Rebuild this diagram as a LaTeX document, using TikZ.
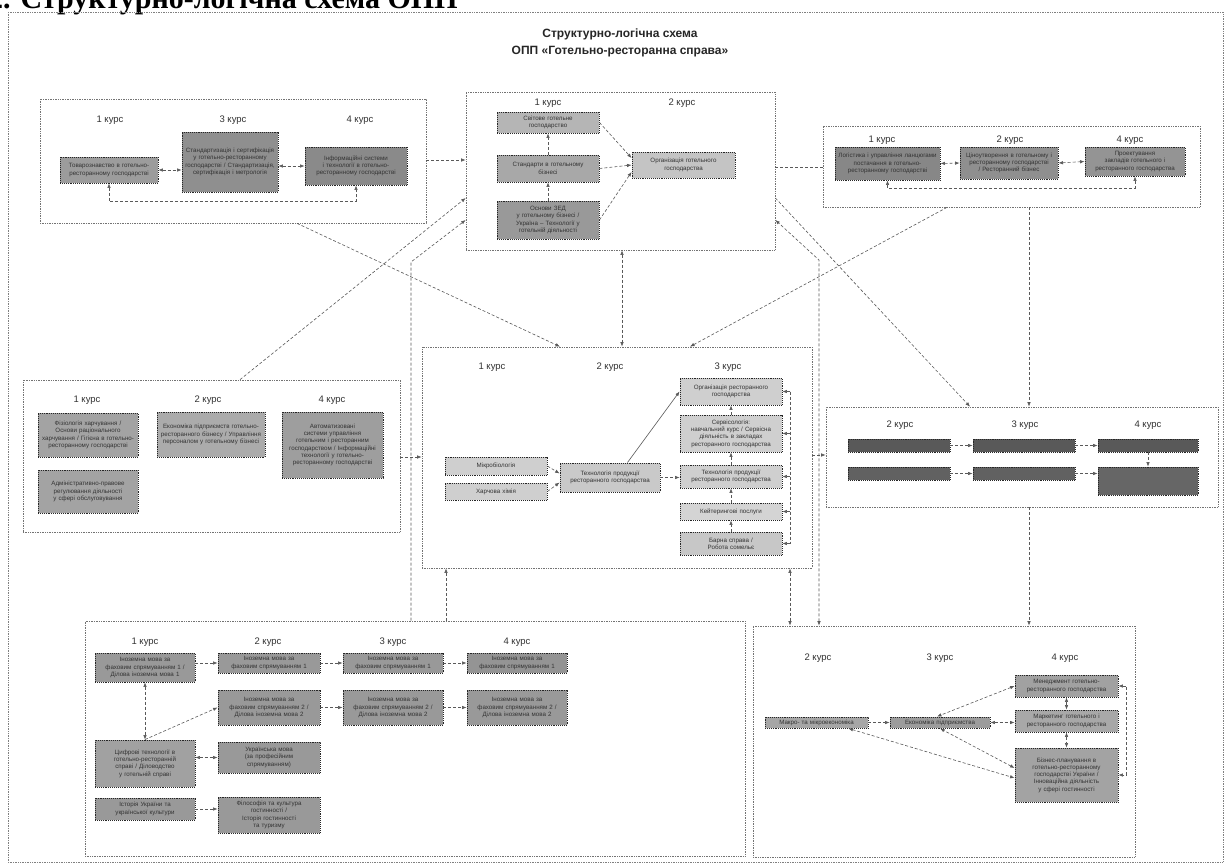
\documentclass[tikz,border=0pt]{standalone}
\usepackage{fontspec}
\setmainfont{Liberation Serif}
\newfontfamily\arialf{Liberation Sans}
\usetikzlibrary{arrows.meta,fit}
\tikzset{
 bx/.style={draw=black!85,densely dotted,line width=0.9pt,inner sep=1pt,align=center,text=black!80,font=\arialf\fontsize{6.2}{7.3}\selectfont},
 grp/.style={draw=black!55,densely dotted,line width=0.7pt,inner sep=0pt},
 con/.style={draw=black!65,densely dashed,line width=0.6pt,>={Latex[length=4.5pt,width=3.5pt]}},
 lbl/.style={text=black!80,font=\arialf\fontsize{9.5}{11}\selectfont},
}
\newcommand\mkbox[7]{%
  \pgfmathsetmacro\bxw{#4-#2}%
  \pgfmathsetmacro\bxh{#5-#3}%
  \pgfmathsetmacro\bxt{#4-#2-5}%
  \node[bx,fill=#6,minimum width=\bxw pt,minimum height=\bxh pt,text width=\bxt pt] (#1) at ({(#2+#4)/2},{(#3+#5)/2}) {#7};}
\newcommand\mkgrp[5]{\node[grp,fit={(#2,#3) (#4,#5)}] (#1) {};}
\begin{document}
\begin{tikzpicture}[x=1pt,y=-1pt]
\useasboundingbox (0,0) rectangle (1231,864);
\fill[white] (0,0) rectangle (1231,864);
\node[anchor=base west,font=\bfseries\fontsize{30}{32}\selectfont,inner sep=0] (hdr) at (-12,9) {2. Структурно-логічна схема ОПП};
\draw[black!50,densely dotted,line width=0.7pt] (8,12) rectangle (1223,862);
\node[font=\arialf\bfseries\fontsize{12}{17}\selectfont,align=center,text=black!85] (title) at (620,43) {Структурно-логічна схема\\ОПП «Готельно-ресторанна справа»};

% groups
\mkgrp{g1}{40}{99}{426}{223}
\mkgrp{g2}{466}{92}{775}{250}
\mkgrp{g3}{823}{126}{1200}{207}
\mkgrp{g4}{23}{380}{400}{532}
\mkgrp{g5}{422}{347}{812}{568}
\mkgrp{g6}{826}{407}{1218}{507}
\mkgrp{g7}{85}{621}{745}{856}
\mkgrp{g8}{753}{626}{1135}{857}

% labels
\node[lbl] (l11) at (110,120) {1 курс};
\node[lbl] (l13) at (233,120) {3 курс};
\node[lbl] (l14) at (360,120) {4 курс};
\node[lbl] (l21) at (548,103) {1 курс};
\node[lbl] (l22) at (682,103) {2 курс};
\node[lbl] (l31) at (882,140) {1 курс};
\node[lbl] (l32) at (1010,140) {2 курс};
\node[lbl] (l34) at (1130,140) {4 курс};
\node[lbl] (l41) at (87,400) {1 курс};
\node[lbl] (l42) at (208,400) {2 курс};
\node[lbl] (l44) at (332,400) {4 курс};
\node[lbl] (l51) at (492,367) {1 курс};
\node[lbl] (l52) at (610,367) {2 курс};
\node[lbl] (l53) at (728,367) {3 курс};
\node[lbl] (l62) at (900,425) {2 курс};
\node[lbl] (l63) at (1025,425) {3 курс};
\node[lbl] (l64) at (1148,425) {4 курс};
\node[lbl] (l71) at (145,642) {1 курс};
\node[lbl] (l72) at (268,642) {2 курс};
\node[lbl] (l73) at (393,642) {3 курс};
\node[lbl] (l74) at (517,642) {4 курс};
\node[lbl] (l82) at (818,658) {2 курс};
\node[lbl] (l83) at (940,658) {3 курс};
\node[lbl] (l84) at (1065,658) {4 курс};

% group 1
\mkbox{A1}{60}{157}{158}{183}{black!39}{Товарознавство в готельно-ресторанному господарстві}
\mkbox{A3}{182}{132}{278}{192}{black!44}{Стандартизація і сертифікація у готельно-ресторанному господарстві / Стандартизація, сертифікація і метрологія}
\mkbox{A4}{305}{147}{407}{185}{black!46}{Інформаційні системи і технології в готельно-ресторанному господарстві}
% group 2
\mkbox{B1}{497}{112}{599}{133}{black!29}{Світове готельне\\господарство}
\mkbox{B2}{497}{155}{599}{182}{black!34}{Стандарти в готельному\\бізнесі}
\mkbox{B3}{497}{201}{599}{239}{black!40}{Основи ЗЕД\\у готельному бізнесі /\\Україна – Технології у\\готельній діяльності}
\mkbox{B4}{632}{152}{735}{178}{black!23}{Організація готельного\\господарства}
% group 3
\mkbox{C1}{835}{147}{940}{180}{black!47}{Логістика і управління ланцюгами постачання в готельно-ресторанному господарстві}
\mkbox{C2}{960}{147}{1058}{179}{black!44}{Ціноутворення в готельному і ресторанному господарстві / Ресторанний бізнес}
\mkbox{C4}{1085}{147}{1185}{176}{black!42}{Проектування закладів готельного і ресторанного господарства}
% group 4
\mkbox{D1a}{38}{413}{138}{457}{black!36}{Фізіологія харчування / Основи раціонального харчування / Гігієна в готельно-ресторанному господарстві}
\mkbox{D1b}{38}{470}{138}{513}{black!36}{Адміністративно-правове регулювання діяльності у сфері обслуговування}
\mkbox{D2}{157}{412}{265}{457}{black!33}{Економіка підприємств готельно-ресторанного бізнесу / Управління персоналом у готельному бізнесі}
\mkbox{D4}{282}{412}{383}{478}{black!38}{Автоматизовані системи управління готельним і ресторанним господарством / Інформаційні технології у готельно-ресторанному господарстві}
% group 5
\mkbox{E1a}{445}{457}{547}{475}{black!19}{Мікробіологія}
\mkbox{E1b}{445}{483}{547}{500}{black!19}{Харчова хімія}
\mkbox{E2}{560}{463}{660}{492}{black!21}{Технологія продукції\\ресторанного господарства}
\mkbox{E3a}{680}{378}{782}{405}{black!19}{Організація ресторанного\\господарства}
\mkbox{E3b}{680}{415}{782}{452}{black!19}{Сервісологія:\\навчальний курс / Сервісна\\діяльність в закладах\\ресторанного господарства}
\mkbox{E3c}{680}{465}{782}{488}{black!19}{Технологія продукції\\ресторанного господарства}
\mkbox{E3d}{680}{503}{782}{520}{black!17}{Кейтерингові послуги}
\mkbox{E3e}{680}{532}{782}{555}{black!22}{Барна справа /\\Робота сомельє}
% group 6
\mkbox{F2a}{848}{439}{950}{452}{black!65}{}
\mkbox{F3a}{973}{439}{1075}{452}{black!65}{}
\mkbox{F4a}{1098}{439}{1198}{452}{black!65}{}
\mkbox{F2b}{848}{467}{950}{480}{black!62}{}
\mkbox{F3b}{973}{467}{1075}{480}{black!62}{}
\mkbox{F4b}{1098}{467}{1198}{495}{black!60}{}
% group 7
\mkbox{H1a}{95}{653}{195}{682}{black!40}{Іноземна мова за\\фаховим спрямуванням 1 /\\Ділова іноземна мова 1}
\mkbox{H2a}{218}{653}{320}{673}{black!40}{Іноземна мова за\\фаховим спрямуванням 1}
\mkbox{H3a}{343}{653}{443}{673}{black!40}{Іноземна мова за\\фаховим спрямуванням 1}
\mkbox{H4a}{467}{653}{567}{673}{black!42}{Іноземна мова за\\фаховим спрямуванням 1}
\mkbox{H2b}{218}{690}{320}{725}{black!40}{Іноземна мова за\\фаховим спрямуванням 2 /\\Ділова іноземна мова 2}
\mkbox{H3b}{343}{690}{443}{725}{black!40}{Іноземна мова за\\фаховим спрямуванням 2 /\\Ділова іноземна мова 2}
\mkbox{H4b}{467}{690}{567}{725}{black!40}{Іноземна мова за\\фаховим спрямуванням 2 /\\Ділова іноземна мова 2}
\mkbox{H1b}{95}{740}{195}{787}{black!37}{Цифрові технології в\\готельно-ресторанній\\справі / Діловодство\\у готельній справі}
\mkbox{H2c}{218}{742}{320}{773}{black!40}{Українська мова\\(за професійним\\спрямуванням)}
\mkbox{H1c}{95}{798}{195}{820}{black!40}{Історія України та\\української культури}
\mkbox{H2d}{218}{797}{320}{833}{black!40}{Філософія та культура\\гостинності /\\Історія гостинності\\та туризму}
% group 8
\mkbox{K2}{765}{717}{868}{728}{black!35}{Макро- та мікроекономіка}
\mkbox{K3}{890}{717}{990}{728}{black!39}{Економіка підприємства}
\mkbox{K4a}{1015}{675}{1118}{697}{black!37}{Менеджмент готельно-\\ресторанного господарства}
\mkbox{K4b}{1015}{710}{1118}{732}{black!34}{Маркетинг готельного і\\ресторанного господарства}
\mkbox{K4c}{1015}{748}{1118}{802}{black!36}{Бізнес-планування в\\готельно-ресторанному\\господарстві України /\\Інноваційна діяльність\\у сфері гостинності}

% connectors inside group 1
\draw[con,<->] (A1.east) -- (A3.west |- A1.east);
\draw[con,<->] (A3.east |- A4.west) -- (A4.west);
\draw[con,<->] (A1.south) -- ++(0,18) -| (A4.south);
% group 2
\draw[con,->] (B3.north) -- (B2.south);
\draw[con,->] (B2.north) -- (B1.south);
\draw[con,->] (B1.east) -- ([yshift=7pt]B4.west);
\draw[con,->] (B2.east) -- (B4.west);
\draw[con,->] (B3.east) -- ([yshift=-7pt]B4.west);
% group 3
\draw[con,<->] (C1.east) -- (C2.west);
\draw[con,<->] (C2.east) -- (C4.west);
\draw[con,<->] (C1.south) -- (C1.south |- 0,188) -| (C4.south);
% group 5
\draw[con,->] (E1a.east) -- ([yshift=4pt]E2.west);
\draw[con,->] (E1b.east) -- ([yshift=-5pt]E2.west);
\draw[con,solid,->] ([xshift=-33pt]E2.north east) -- (E3a.west);
\draw[con,->] (E2.east) -- (E3c.west |- E2.east);
\draw[con,->] (E3e.north) -- (E3d.south);
\draw[con,->] (E3d.north) -- (E3c.south);
\draw[con,->] (E3c.north) -- (E3b.south);
\draw[con,->] (E3b.north) -- (E3a.south);
\coordinate (bus) at (790,0);
\draw[con] (E3a.east -| bus) -- (E3e.east -| bus);
\foreach \n in {E3a,E3b,E3c,E3d,E3e} \draw[con,->] (\n.east -| bus) -- (\n.east);
% group 6
\draw[con,->] (F2a.east) -- (F3a.west);
\draw[con,->] (F3a.east) -- (F4a.west);
\draw[con,->] (F4a.south) -- (F4b.north);
\draw[con,->] (F2b.east) -- (F3b.west);
\draw[con,->] (F3b.east) -- (F4b.west |- F3b.east);
% group 7
\draw[con,->] (H1a.east |- H2a.west) -- (H2a.west);
\draw[con,->] (H2a.east) -- (H3a.west);
\draw[con,->] (H3a.east) -- (H4a.west);
\draw[con,->] (H2b.east) -- (H3b.west);
\draw[con,->] (H3b.east) -- (H4b.west);
\draw[con,<->] (H1a.south) -- (H1b.north);
\draw[con,->] (H1b.north) -- (H2b.west);
\draw[con,<->] (H1b.east |- H2c.west) -- (H2c.west);
\draw[con,->] (H1c.east) -- (H2d.west |- H1c.east);
% group 8
\draw[con,->] (K2.east) -- (K3.west);
\draw[con,<->] (K3.east) -- (K4b.west |- K3.east);
\draw[con,<->] (K4a.west) -- ([xshift=-3pt]K3.north);
\draw[con,<->] ([yshift=7pt]K4c.west) -- (K3.south);
\draw[con,<->] ([xshift=-20pt]K2.south east) -- ([yshift=-3pt]K4c.west);
\draw[con,<->] (K4a.south) -- (K4b.north);
\draw[con,<->] (K4b.south) -- (K4c.north);
\draw[con,<->] (K4a.east) -- ++(8,0) |- (K4c.east);

% between groups
\draw[con,->] (g1.east |- 0,160) -- (g2.west |- 0,160);
\draw[con,->] (240,0 |- g4.north) -- (g2.west |- 0,198);
\draw[con,->] (411,0 |- g7.north) -- (411,262) -- (g2.west |- 0,220);
\draw[con,->] (297,0 |- g1.south) -- (560,0 |- g5.north);
\draw[con,<->] (622,0 |- g2.south) -- (622,0 |- g5.north);
\draw[con,->] (g2.east |- 0,198) -- (970,0 |- g6.north);
\draw[con,<->] (819,0 |- g8.north) -- (819,260) -- (g2.east |- 0,220);
\draw[con,->] (947,0 |- g3.south) -- (690,0 |- g5.north);
\draw[con,->] (1029,0 |- g3.south) -- (1029,0 |- g6.north);
\draw[con,->] (1029,0 |- g6.south) -- (1029,0 |- g8.north);
\draw[con] (g2.east |- 0,167) -- (g3.west |- 0,167);
\draw[con,->] (g4.east |- 0,457) -- (g5.west |- 0,457);
\draw[con,->] (446,0 |- g7.north) -- (446,0 |- g5.south);
\draw[con,<->] (790,0 |- g5.south) -- (790,0 |- g8.north);
\draw[con,->] (g5.east |- 0,455) -- (g6.west |- 0,455);
\end{tikzpicture}
\end{document}
